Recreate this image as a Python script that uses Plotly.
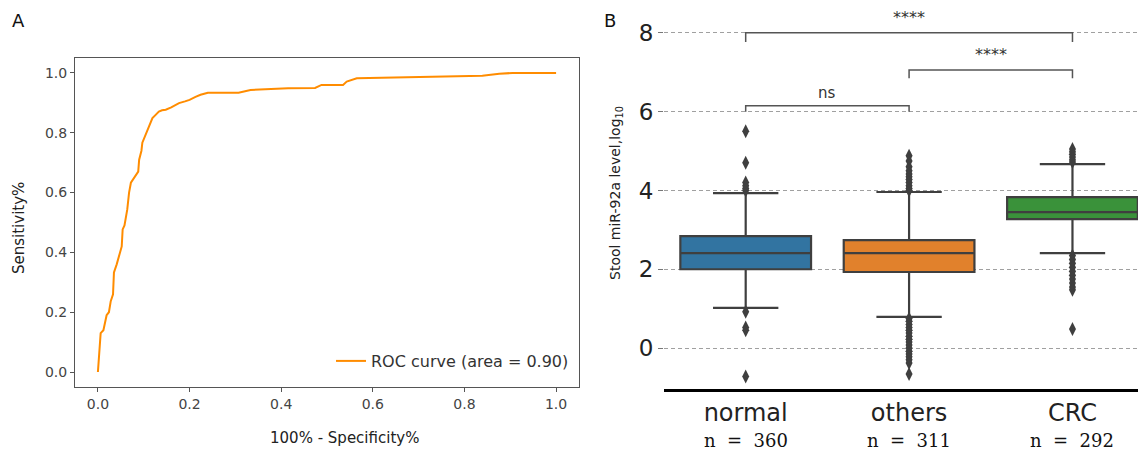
import plotly.graph_objects as go

# ---------------- data ----------------
# Panel A: ROC curve
fpr = [0, 0.003, 0.006, 0.012, 0.019, 0.024, 0.028, 0.033, 0.035, 0.041, 0.046, 0.052, 0.054,
       0.058, 0.064, 0.068, 0.072, 0.08, 0.083, 0.088, 0.09, 0.095, 0.097, 0.103, 0.108, 0.114,
       0.119, 0.126, 0.133, 0.14, 0.148, 0.16, 0.177, 0.19, 0.2, 0.213, 0.224, 0.24, 0.307,
       0.333, 0.415, 0.474, 0.488, 0.535, 0.543, 0.565, 0.713, 0.839, 0.876, 0.905, 0.97, 1.0]
tpr = [0, 0.06, 0.13, 0.14, 0.19, 0.2, 0.237, 0.26, 0.333, 0.36, 0.388, 0.42, 0.477,
       0.49, 0.543, 0.6, 0.633, 0.65, 0.66, 0.67, 0.71, 0.74, 0.767, 0.79, 0.81, 0.83,
       0.849, 0.86, 0.871, 0.875, 0.877, 0.885, 0.899, 0.905, 0.91, 0.92, 0.927, 0.934, 0.934,
       0.943, 0.949, 0.95, 0.96, 0.96, 0.971, 0.982, 0.988, 0.991, 0.997, 1.0, 1.0, 1.0]
roc_label = "ROC curve (area = 0.90)"

# Panel B: box plot summary
groups = ["normal", "others", "CRC"]
counts = [360, 311, 292]
q1 = [2.0, 1.93, 3.27]
median = [2.41, 2.41, 3.45]
q3 = [2.84, 2.74, 3.83]
lower_whisker = [1.02, 0.79, 2.41]
upper_whisker = [3.93, 3.96, 4.67]
box_colors = ["#3274a1", "#e1812c", "#3a923a"]
outliers_normal = [5.5, 4.7, 4.2, 4.12, 4.05, 4.0, 0.92, 0.52, 0.45, -0.72]
outliers_others = [4.88, 4.75, 4.6, 4.5, 4.42, 4.35, 4.28, 4.2, 4.12, 4.05, 4.0,
                   0.75, 0.68, 0.6, 0.52, 0.45, 0.38, 0.3, 0.22, 0.15, 0.08, 0.0,
                   -0.08, -0.15, -0.22, -0.3, -0.38, -0.66]
outliers_crc = [5.05, 4.98, 4.92, 4.85, 4.78, 4.72, 2.35, 2.25, 2.15, 2.05, 1.95, 1.85,
                1.75, 1.65, 1.55, 1.48, 0.48]
outliers = [outliers_normal, outliers_others, outliers_crc]

# significance brackets: (left group idx, right group idx, top level, drop level, label)
brackets = [(0, 1, 6.15, 6.0, "ns"),
            (1, 2, 7.06, 6.85, "****"),
            (0, 2, 8.0, 7.77, "****")]

# ---------------- figure ----------------
# page body has an 8px margin; the figure fills the rest of the 1146x453 window
OFF = 8
W, H = 1146 - OFF, 453 - OFF
fig = go.Figure()


def px_x(p):
    return (p - OFF) / W


def px_y(p):
    return 1 - (p - OFF) / H


# Panel A
fig.add_trace(go.Scatter(x=fpr, y=tpr, mode="lines", name=roc_label,
                         line=dict(color="#ff8c00", width=2),
                         xaxis="x", yaxis="y", showlegend=True))

# Panel B boxes
edge = "#3f3f3f"
for i, g in enumerate(groups):
    fig.add_trace(go.Box(x=[i], q1=[q1[i]], median=[median[i]], q3=[q3[i]],
                         lowerfence=[lower_whisker[i]], upperfence=[upper_whisker[i]],
                         fillcolor=box_colors[i], line=dict(color=edge, width=2.2),
                         width=0.8, whiskerwidth=0.5, boxpoints=False,
                         xaxis="x2", yaxis="y2", showlegend=False, name=g))
    fig.add_trace(go.Scatter(x=[i] * len(outliers[i]), y=outliers[i], mode="markers",
                             marker=dict(symbol="diamond-tall", size=10, color=edge,
                                         line=dict(width=0)),
                             xaxis="x2", yaxis="y2", showlegend=False))

shapes = []
annotations = []
for (a, b, top, drop, lab) in brackets:
    shapes.append(dict(type="path", xref="x2", yref="y2",
                       path=f"M {a},{drop} L {a},{top} L {b},{top} L {b},{drop}",
                       line=dict(color="#555555", width=1.5)))
    annotations.append(dict(x=(a + b) / 2, y=top, xref="x2", yref="y2", text=lab,
                            showarrow=False, xanchor="center", yanchor="bottom",
                            yshift=2 if lab == "ns" else 4,
                            font=dict(family="DejaVu Sans", size=15 if lab == "ns" else 16,
                                      color="#333333")))

NB = "\u00a0"
for i, n in enumerate(counts):
    annotations.append(dict(x=i, y=px_y(440), xref="x2", yref="paper",
                            text=f"n{NB}{NB}={NB}{NB}{n}", showarrow=False,
                            xanchor="center", yanchor="middle",
                            font=dict(family="DejaVu Serif", size=18, color="#111111")))


def note(x, y, text, size, angle=0, color="#222222"):
    return dict(x=px_x(x), y=px_y(y), xref="paper", yref="paper", text=text,
                showarrow=False, textangle=angle, xanchor="center", yanchor="middle",
                font=dict(family="DejaVu Sans", size=size, color=color))


annotations += [
    note(18, 20, "A", 18, color="#111111"),
    note(610, 20, "B", 18, color="#111111"),
    note(19, 228, "Sensitivity%", 15),
    note(345, 438, "100% - Specificity%", 15),
    note(616, 193, "Stool miR-92a level,log<sub>10</sub>", 14, angle=-90),
]
annotations[-3]["textangle"] = -90

tickA = dict(family="DejaVu Sans", size=14, color="#444444")
fig.update_layout(
    width=W, height=H, margin=dict(l=0, r=0, t=0, b=0),
    paper_bgcolor="white", plot_bgcolor="white",
    xaxis=dict(domain=[px_x(75), px_x(579)], range=[-0.05, 1.05],
               tickvals=[0, 0.2, 0.4, 0.6, 0.8, 1.0],
               ticktext=["0.0", "0.2", "0.4", "0.6", "0.8", "1.0"],
               showgrid=False, zeroline=False, showline=True, mirror=True,
               linecolor="#555555", linewidth=1, ticks="outside", ticklen=4,
               tickcolor="#555555", tickfont=tickA, anchor="y"),
    yaxis=dict(domain=[px_y(387), px_y(58)], range=[-0.05, 1.05],
               tickvals=[0, 0.2, 0.4, 0.6, 0.8, 1.0],
               ticktext=["0.0", "0.2", "0.4", "0.6", "0.8", "1.0"],
               showgrid=False, zeroline=False, showline=True, mirror=True,
               linecolor="#555555", linewidth=1, ticks="outside", ticklen=4,
               tickcolor="#555555", tickfont=tickA, anchor="x"),
    xaxis2=dict(domain=[px_x(664), 1.0], range=[-0.5, 2.45],
                tickvals=[0, 1, 2], ticktext=groups,
                showgrid=False, zeroline=False, showline=True, linecolor="black",
                linewidth=3, ticks="", tickfont=dict(family="DejaVu Sans", size=24,
                                                     color="#222222"),
                anchor="y2"),
    yaxis2=dict(domain=[px_y(389), px_y(10)], range=[-1.04, 8.58],
                tickvals=[0, 2, 4, 6, 8], showgrid=True, gridcolor="#a0a0a0",
                griddash="4px,3px", gridwidth=1, zeroline=False, showline=False,
                ticks="outside", ticklen=5, tickcolor="#777777",
                tickfont=dict(family="DejaVu Sans", size=23, color="#222222"),
                anchor="x2"),
    legend=dict(x=px_x(574), y=px_y(378), xanchor="right", yanchor="bottom",
                bgcolor="rgba(255,255,255,0)", borderwidth=0,
                font=dict(family="DejaVu Sans", size=16, color="#333333")),
    shapes=shapes, annotations=annotations,
)

fig.write_html("out.html")
